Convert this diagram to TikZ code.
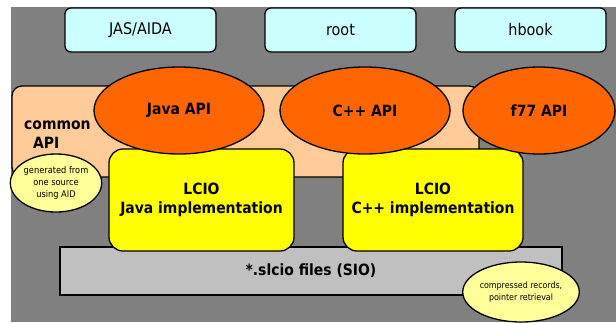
\documentclass[tikz,border=0pt]{standalone}
\usepackage{fontspec}
\setmainfont{DejaVu Sans Condensed}
\usetikzlibrary{shapes.geometric}
\definecolor{bggray}{HTML}{808080}
\definecolor{cyanbox}{HTML}{CCFFFF}
\definecolor{peach}{HTML}{FFCC99}
\definecolor{apiorange}{HTML}{FF6600}
\definecolor{implyellow}{HTML}{FFFF00}
\definecolor{noteyellow}{HTML}{FFFF99}
\definecolor{siogray}{HTML}{C0C0C0}
\tikzset{
  box/.style={draw=black, line width=1.3pt, inner sep=0pt, outer sep=0pt},
  toolbox/.style={box, fill=cyanbox, rounded corners=6pt, minimum width=151pt, minimum height=44pt, font=\fontsize{16}{19}\selectfont},
  apiell/.style={box, ellipse, fill=apiorange, minimum height=87pt, font=\bfseries\fontsize{15.5}{19}\selectfont},
  implbox/.style={box, fill=implyellow, rounded corners=14pt, minimum height=102pt, align=center, font=\bfseries\fontsize{15.5}{19}\selectfont},
  note/.style={box, ellipse, fill=noteyellow, align=center, font=\fontsize{9.2}{12}\selectfont},
}
\begin{document}
\begin{tikzpicture}[x=1pt, y=-1pt]
\useasboundingbox (0,0) rectangle (616,322);
\fill[bggray] (11,7) rectangle (616,322);
% top tools
\node[toolbox] (jas) at (140.5,30) {JAS/AIDA};
\node[toolbox] (root) at (340.5,30) {root};
\node[toolbox] (hbook) at (530.5,30) {hbook};
% common API
\node[box, fill=peach, rounded corners=10pt, minimum width=467pt, minimum height=91pt] (common) at (245.5,131.5) {};
\node[anchor=west, align=left, font=\bfseries\fontsize{15.5}{19}\selectfont, inner sep=0pt] (commontext) at (24,135) {common\\\hspace*{9pt}API};
\node[note, minimum width=90pt, minimum height=58pt] (aid) at (56,183) {generated from\\one source\\using AID};
% SIO
\node[box, fill=siogray, minimum width=502pt, minimum height=48pt, font=\bfseries\fontsize{15.5}{19}\selectfont] (sio) at (311,271) {*.slcio files (SIO)};
% implementations
\node[implbox, minimum width=185pt] (javaimpl) at (201.5,200) {LCIO\\Java implementation};
\node[implbox, minimum width=180pt] (cppimpl) at (433,200) {LCIO\\C++ implementation};
% APIs
\node[apiell, minimum width=170pt] (javaapi) at (179,110.5) {Java API};
\node[apiell, minimum width=170pt] (cppapi) at (365,110.5) {C++ API};
\node[apiell, minimum width=152pt] (f77api) at (539,110.5) {f77 API};
% note
\node[note, font=\fontsize{8.8}{12}\selectfont, minimum width=102pt, minimum height=60pt] (sionote) at (521,292) {compressed records,\\pointer retrieval};
\end{tikzpicture}
\end{document}
